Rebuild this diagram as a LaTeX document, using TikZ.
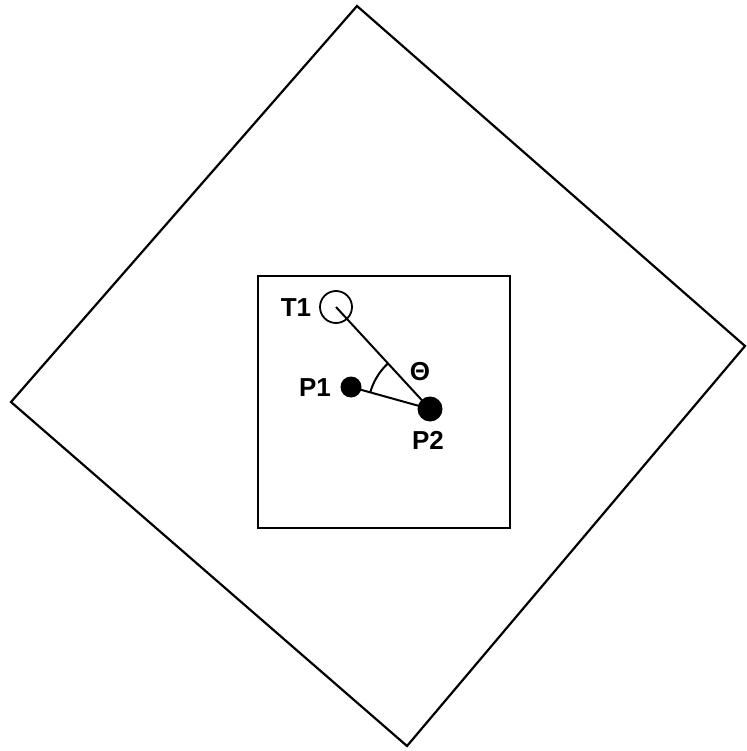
\documentclass[tikz,border=0pt]{standalone}
\usepackage{fontspec}
\setmainfont{Liberation Sans}
\usetikzlibrary{calc}
\begin{document}
\begin{tikzpicture}[x=1pt,y=-1pt,
  frame/.style={draw=black,line width=2.2pt},
  lbl/.style={font=\fontsize{26}{28}\selectfont\bfseries,inner sep=0pt},
  dot/.style={circle,fill=black,inner sep=0pt},
  link/.style={draw=black,line width=2pt}]
\useasboundingbox (0,0) rectangle (746,751);
\coordinate (dt) at (357,6);
\coordinate (dr) at (745,346);
\coordinate (db) at (407,746);
\coordinate (dl) at (11,402);
\draw[frame,line join=miter] (dt) -- (dr) -- (db) -- (dl) -- cycle;
\draw[frame] (258,276) rectangle (510,528);
\node[circle,draw=black,line width=1.8pt,minimum size=32pt,inner sep=0pt] (t1) at (336,307) {};
\node[dot,minimum size=21pt] (p1) at (351,387) {};
\node[dot,minimum size=25pt] (p2) at (430,409) {};
\draw[link] (t1.center) -- (p2.center);
\draw[link] (p1.center) -- (p2.center);
\coordinate (a1) at ($(p2.center)!62pt!(p1.center)$);
\draw[link] (a1) arc[start angle={atan2(409-387,351-430)}, end angle={atan2(409-307,336-430)}, radius=62pt];
\node[lbl] (lt1) at (296,308) {T1};
\node[lbl] (lp1) at (315,388) {P1};
\node[lbl] (lp2) at (428,440) {P2};
\node[lbl] (th) at (420,372) {Θ};
\end{tikzpicture}
\end{document}
